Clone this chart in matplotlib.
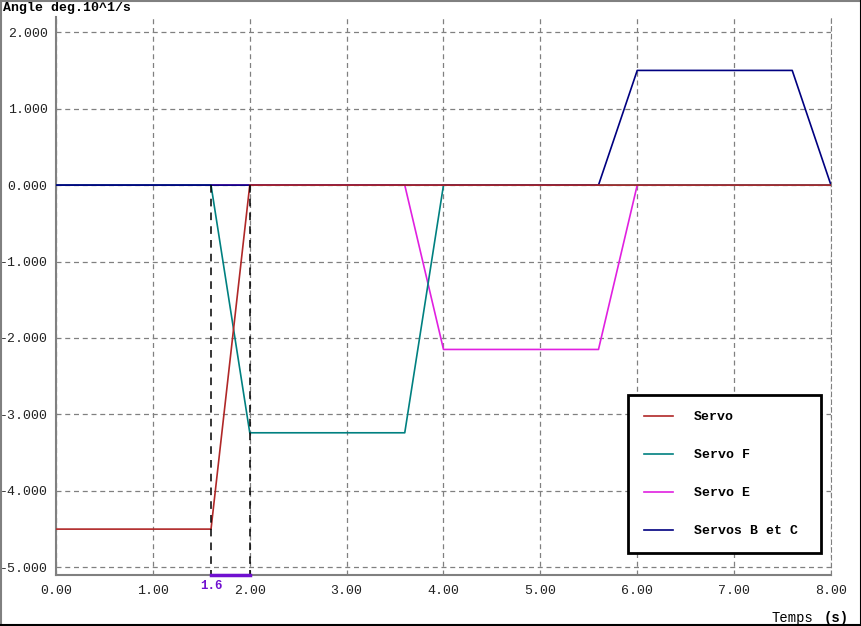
import matplotlib
matplotlib.use("Agg")
import matplotlib.pyplot as plt
from matplotlib.lines import Line2D

# Courbes de consigne des servos (temps en s, angle en deg.10^1/s)
t_servo = [0.0, 1.6, 2.0, 8.0]
servo = [-4.5, -4.5, 0.0, 0.0]

t_f = [0.0, 1.6, 2.0, 3.6, 4.0, 8.0]
servo_f = [0.0, 0.0, -3.24, -3.24, 0.0, 0.0]

t_e = [0.0, 3.6, 4.0, 5.6, 6.0, 8.0]
servo_e = [0.0, 0.0, -2.15, -2.15, 0.0, 0.0]

t_bc = [0.0, 5.6, 6.0, 7.6, 8.0]
servo_bc = [0.0, 0.0, 1.5, 1.5, 0.0]

x_ticks = [0, 1, 2, 3, 4, 5, 6, 7, 8]
y_ticks = [-5, -4, -3, -2, -1, 0, 1, 2]
t_marks = [1.6, 2.0]

mono = "Liberation Mono"

fig = plt.figure(figsize=(8.62, 6.26), dpi=100)
ax = fig.add_axes([0.065, 0.0815, 0.899, 0.8915])

ax.plot(t_e, servo_e, color="#e020e0", lw=1.2, label="Servo E", zorder=3)
ax.plot(t_f, servo_f, color="#008080", lw=1.2, label="Servo F", zorder=4)
ax.plot(t_bc, servo_bc, color="#000080", lw=1.2, label="Servos B et C", zorder=5)
ax.plot(t_servo, servo, color="#b02828", lw=1.2, label="Servo", zorder=6)

# repères 1.6 -> 2.0
for t in t_marks:
    ax.plot([t, t], [0, -5.1], color="black", lw=1.1, ls=(0, (5, 4)), zorder=7)
ax.plot(t_marks, [-5.1, -5.1], color="#7010d0", lw=2.5, zorder=8, clip_on=False)
ax.text(t_marks[0], -5.16, "1.6", color="#7010d0", fontweight="bold",
        family=mono, fontsize=9, ha="center", va="top")

ax.set_xlim(0, 8)
ax.set_ylim(-5.1, 2.2)
ax.set_xticks(x_ticks)
ax.set_xticklabels([f"{v:.2f}" for v in x_ticks])
ax.set_yticks(y_ticks)
ax.set_yticklabels([f"{v:.3f}" for v in y_ticks])
ax.tick_params(length=0, pad=6, labelsize=9.5, labelcolor="#222222")
for lab in ax.get_xticklabels() + ax.get_yticklabels():
    lab.set_family(mono)
ax.tick_params(axis="x", pad=7)

ax.grid(True, color="#808080", ls=(0, (4, 3)), lw=0.9)
ax.spines["top"].set_visible(False)
ax.spines["right"].set_color("#808080")
ax.spines["right"].set_linestyle((0, (4, 3)))
ax.spines["left"].set_color("#808080")
ax.spines["bottom"].set_color("#808080")
ax.spines["left"].set_linewidth(1.5)
ax.spines["bottom"].set_linewidth(1.5)

handles, labels = ax.get_legend_handles_labels()
order = [3, 1, 0, 2]
leg = ax.legend([handles[i] for i in order], [labels[i] for i in order],
                loc="lower left", mode="expand",
                bbox_to_anchor=(0.738, 0.039, 0.249, 0.287),
                prop={"family": mono, "weight": "bold", "size": 9.5},
                frameon=True, fancybox=False, edgecolor="black", framealpha=1,
                handlelength=2.2, handletextpad=1.6, labelspacing=1.95,
                borderpad=1.2, borderaxespad=0)
leg.get_frame().set_linewidth(2)
leg.set_zorder(10)

fig.text(0.003, 0.987, "Angle deg.10^1/s", family=mono, fontweight="bold",
         fontsize=9.5, ha="left", va="center")
fig.text(0.895, 0.012, "Temps", family=mono, fontsize=10, ha="left", va="center")
fig.text(0.955, 0.012, "(s)", family=mono, fontweight="bold", fontsize=10,
         ha="left", va="center")

# cadre de la fenêtre
fig.add_artist(Line2D([0.001, 0.001], [0, 1], color="#808080", lw=1.5))
fig.add_artist(Line2D([0, 1], [0.998, 0.998], color="#808080", lw=1.5))
fig.add_artist(Line2D([0, 1], [0.002, 0.002], color="black", lw=1.5))
fig.add_artist(Line2D([0.999, 0.999], [0, 1], color="black", lw=1.5))

fig.savefig("out.png", dpi=100)
